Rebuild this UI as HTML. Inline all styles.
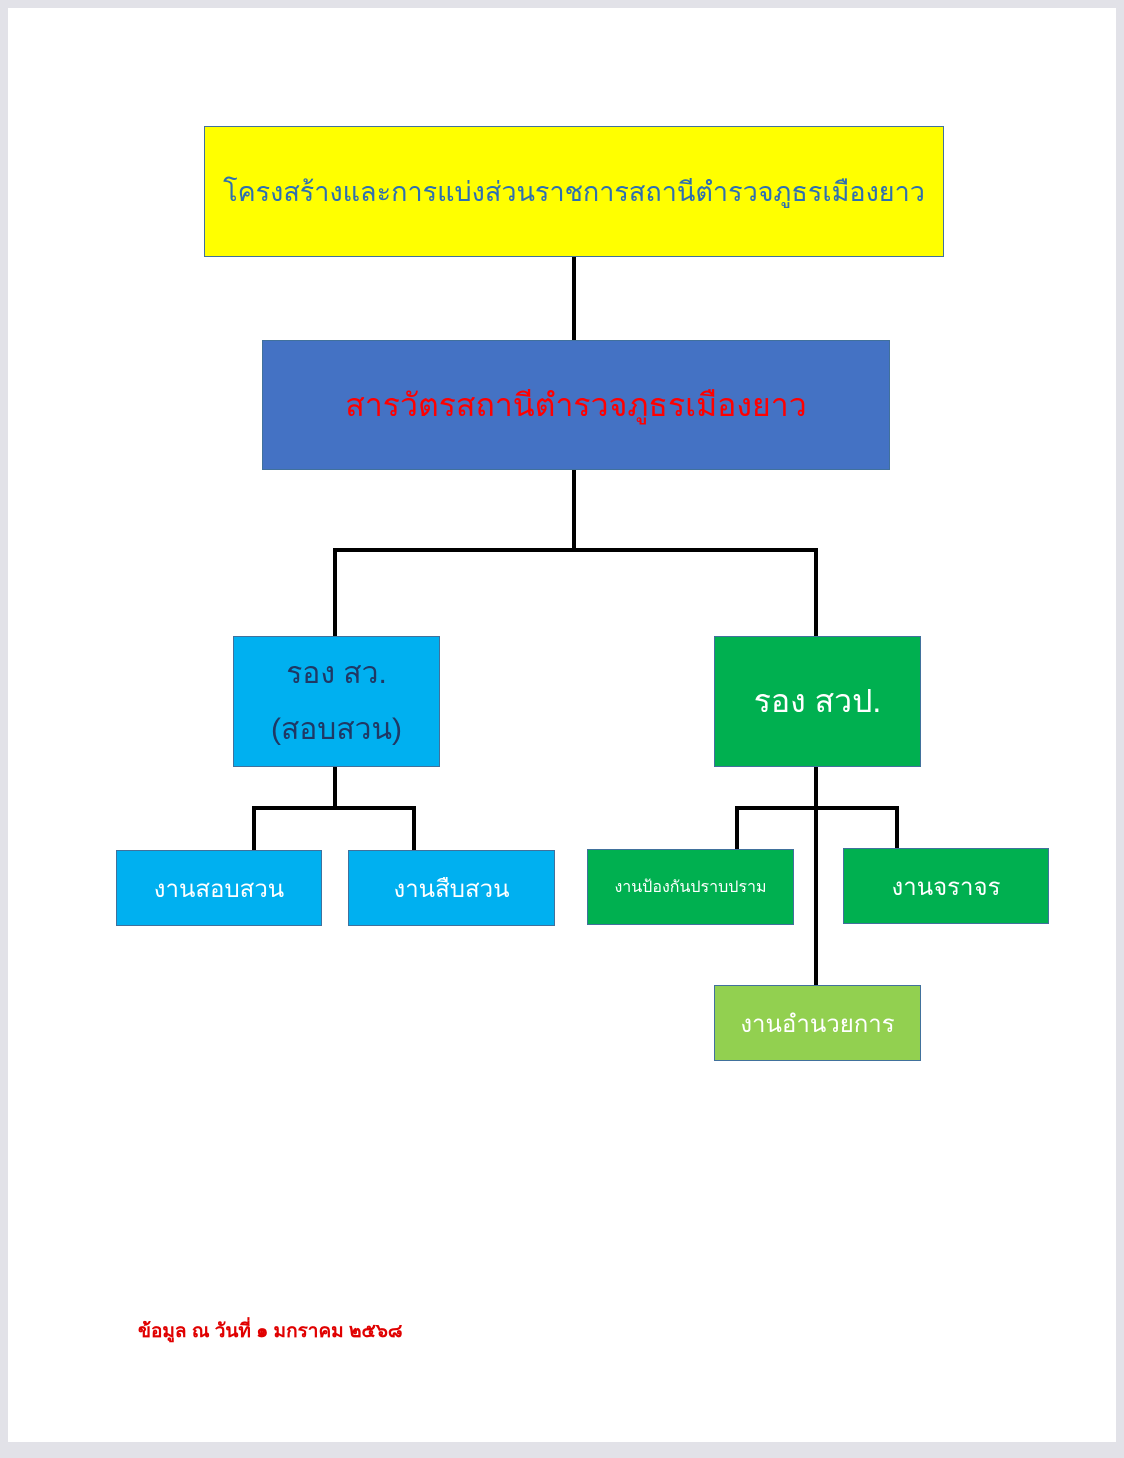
<!DOCTYPE html>
<html><head><meta charset="utf-8"><style>
body{margin:0;width:1124px;height:1458px;background:#e2e2e8;position:relative;overflow:hidden;font-family:"Liberation Sans","DejaVu Sans",sans-serif}
.pg{position:absolute;left:8px;top:8px;width:1108px;height:1434px;background:#fff}
.b{position:absolute;box-sizing:border-box;border:1.5px solid #41719c;display:flex;align-items:center;justify-content:center;text-align:center;white-space:nowrap}
.l{position:absolute;background:#000}
</style></head><body>
<div class="pg"></div>
<div class="l" style="left:572px;top:256px;width:4px;height:84px"></div>
<div class="l" style="left:572px;top:469px;width:4px;height:83px"></div>
<div class="l" style="left:333px;top:548px;width:485px;height:4px"></div>
<div class="l" style="left:333px;top:548px;width:4px;height:88px"></div>
<div class="l" style="left:814px;top:548px;width:4px;height:88px"></div>
<div class="l" style="left:333px;top:766px;width:4px;height:43px"></div>
<div class="l" style="left:252px;top:806px;width:164px;height:4px"></div>
<div class="l" style="left:252px;top:806px;width:4px;height:44px"></div>
<div class="l" style="left:412px;top:806px;width:4px;height:44px"></div>
<div class="l" style="left:814px;top:766px;width:4px;height:219px"></div>
<div class="l" style="left:735px;top:806px;width:164px;height:4px"></div>
<div class="l" style="left:735px;top:806px;width:4px;height:43px"></div>
<div class="l" style="left:895px;top:806px;width:4px;height:43px"></div>
<div class="b" style="left:204px;top:126px;width:740px;height:131px;background:#ffff00;color:#2e6fb0;font-size:27px">โครงสร้างและการแบ่งส่วนราชการสถานีตำรวจภูธรเมืองยาว</div>
<div class="b" style="left:262px;top:340px;width:628px;height:130px;background:#4472c4;color:#ff0000;font-size:32px">สารวัตรสถานีตำรวจภูธรเมืองยาว</div>
<div class="b" style="left:233px;top:636px;width:207px;height:131px;background:#00b0f0;color:#1f3864;font-size:30px;line-height:56px">รอง สว.<br>(สอบสวน)</div>
<div class="b" style="left:714px;top:636px;width:207px;height:131px;background:#00b050;color:#fff;font-size:32px">รอง สวป.</div>
<div class="b" style="left:116px;top:850px;width:206px;height:76px;background:#00b0f0;color:#fff;font-size:24px">งานสอบสวน</div>
<div class="b" style="left:348px;top:850px;width:207px;height:76px;background:#00b0f0;color:#fff;font-size:24px">งานสืบสวน</div>
<div class="b" style="left:587px;top:849px;width:207px;height:76px;background:#00b050;color:#fff;font-size:16px">งานป้องกันปราบปราม</div>
<div class="b" style="left:843px;top:848px;width:206px;height:76px;background:#00b050;color:#fff;font-size:24px">งานจราจร</div>
<div class="b" style="left:714px;top:985px;width:207px;height:76px;background:#92d050;color:#fff;font-size:24px">งานอำนวยการ</div>
<div style="position:absolute;left:138px;top:1316px;color:#e00000;font-size:19px;font-weight:bold">ข้อมูล ณ วันที่ ๑ มกราคม ๒๕๖๘</div>
</body></html>
